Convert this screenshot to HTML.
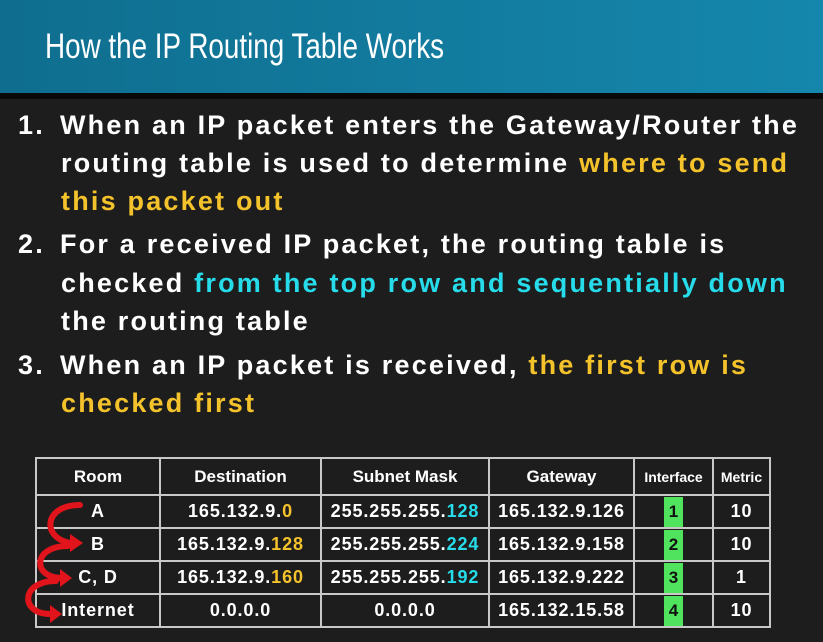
<!DOCTYPE html>
<html><head><meta charset="utf-8"><style>
body{margin:0;width:823px;height:642px;background:#1d1d1d;overflow:hidden;font-family:"Liberation Sans",sans-serif;position:relative}
.hdr{position:absolute;left:0;top:0;width:823px;height:93px;background:linear-gradient(90deg,#0f6e8f,#1587ac);}
.hdr span{position:absolute;left:45px;top:27px;font-size:35px;color:#fff;transform:scaleX(0.795);transform-origin:left top;white-space:nowrap}
.sep{position:absolute;left:0;top:93px;width:823px;height:6px;background:#0a0a0a}
.l{position:absolute;font-size:27px;font-weight:bold;color:#fff;white-space:nowrap;letter-spacing:2.2px}
.y{color:#f4c22b}.c{color:#27dcea}
table{position:absolute;left:35px;top:457px;border-collapse:collapse;color:#fff;font-weight:bold}
td{border:2px solid #c8c8c8;text-align:center;font-size:18px;letter-spacing:0.9px;height:31px;padding:0}
tr.h td{height:35px;font-size:17px;letter-spacing:0}
.g{display:inline-block;background:#4fe35e;color:#111;width:19px;height:30px;line-height:30px;font-size:17px;letter-spacing:0}
</style></head><body>
<div class="hdr"><span>How the IP Routing Table Works</span></div>
<div class="sep"></div>
<div class="l" style="left:18px;top:110px">1.</div><div class="l" style="left:60px;top:110px">When an IP packet enters the Gateway/Router the</div>
<div class="l" style="left:61px;top:148px">routing table is used to determine <span class="y">where to send</span></div>
<div class="l" style="left:61px;top:186px"><span class="y">this packet out</span></div>
<div class="l" style="left:18px;top:229px">2.</div><div class="l" style="left:60px;top:229px">For a received IP packet, the routing table is</div>
<div class="l" style="left:61px;top:268px">checked <span class="c">from the top row and sequentially down</span></div>
<div class="l" style="left:61px;top:306px">the routing table</div>
<div class="l" style="left:18px;top:350px">3.</div><div class="l" style="left:60px;top:350px">When an IP packet is received, <span class="y">the first row is</span></div>
<div class="l" style="left:61px;top:388px"><span class="y">checked first</span></div>
<table>
<tr class="h"><td style="width:122px">Room</td><td style="width:159px">Destination</td><td style="width:166px">Subnet Mask</td><td style="width:143px">Gateway</td><td style="width:77px;font-size:14px">Interface</td><td style="width:55px;font-size:14px">Metric</td></tr>
<tr><td>A</td><td>165.132.9.<span class="y">0</span></td><td>255.255.255.<span class="c">128</span></td><td>165.132.9.126</td><td><span class="g">1</span></td><td>10</td></tr>
<tr><td>B</td><td>165.132.9.<span class="y">128</span></td><td>255.255.255.<span class="c">224</span></td><td>165.132.9.158</td><td><span class="g">2</span></td><td>10</td></tr>
<tr><td>C, D</td><td>165.132.9.<span class="y">160</span></td><td>255.255.255.<span class="c">192</span></td><td>165.132.9.222</td><td><span class="g">3</span></td><td>1</td></tr>
<tr><td>Internet</td><td>0.0.0.0</td><td>0.0.0.0</td><td>165.132.15.58</td><td><span class="g">4</span></td><td>10</td></tr>
</table>
<svg style="position:absolute;left:0;top:0" width="823" height="642">
<g fill="none" stroke="#e0141a" stroke-width="6" stroke-linecap="round">
<path d="M80 505 C42 505,42 540,72 543"/>
<path d="M68 546 C32 546,32 578,62 578"/>
<path d="M56 581 C20 581,20 614,50 614"/>
</g>
<g fill="#e0141a">
<polygon points="70,534 83,543 70,552"/>
<polygon points="60,569 72,578 60,587"/>
<polygon points="50,605 62,614 50,623"/>
</g>
</svg>
</body></html>
